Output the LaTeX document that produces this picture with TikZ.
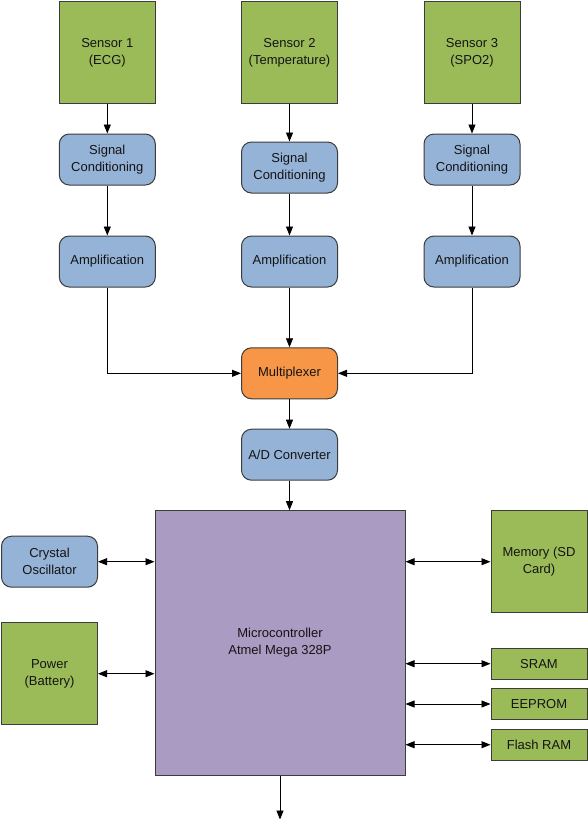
\documentclass[tikz,border=0pt]{standalone}
\usepackage{fontspec}
\setmainfont{Liberation Sans}
\usetikzlibrary{arrows.meta}
\definecolor{gfill}{RGB}{155,187,89}
\definecolor{bfill}{RGB}{149,179,215}
\definecolor{ofill}{RGB}{247,150,70}
\definecolor{pfill}{RGB}{169,155,193}
\definecolor{edge}{RGB}{60,60,60}
\definecolor{txt}{RGB}{20,20,20}
\tikzset{
  base/.style={draw=edge, line width=1pt, text=txt, align=center, inner sep=2pt,
    font=\fontsize{13}{17}\selectfont, minimum width=96pt},
  greenbox/.style={base, fill=gfill, minimum height=102pt},
  bluebox/.style={base, fill=bfill, rounded corners=10pt, minimum height=51pt},
  orangebox/.style={base, fill=ofill, rounded corners=10pt, minimum height=51pt},
  smallbox/.style={base, fill=gfill, minimum height=30.7pt},
  arr/.style={draw=black, line width=0.8pt, -{Triangle[length=9pt,width=7pt]}},
  darr/.style={draw=black, line width=0.8pt, {Triangle[length=9pt,width=7pt]}-{Triangle[length=9pt,width=7pt]}}
}
\begin{document}
\begin{tikzpicture}[x=1pt,y=-1pt]
\useasboundingbox (0,0) rectangle (588,820);
% sensors
\node[greenbox] (s1) at (107.3,52.7) {Sensor 1\\(ECG)};
\node[greenbox] (s2) at (289.5,52.7) {Sensor 2\\(Temperature)};
\node[greenbox] (s3) at (472,52.7) {Sensor 3\\(SPO2)};
% signal conditioning
\node[bluebox] (c1) at (107.3,159.5) {Signal\\Conditioning};
\node[bluebox] (c2) at (289.5,167.5) {Signal\\Conditioning};
\node[bluebox] (c3) at (472,159.5) {Signal\\Conditioning};
% amplification
\node[bluebox] (a1) at (107.3,261.5) {Amplification};
\node[bluebox] (a2) at (289.5,261.5) {Amplification};
\node[bluebox] (a3) at (472,261.5) {Amplification};
% mux and adc
\node[orangebox] (mux) at (289.5,373.3) {Multiplexer};
\node[bluebox] (ad) at (289.5,454.7) {A/D Converter};
% microcontroller
\node[base, fill=pfill, minimum width=250pt, minimum height=264.6pt] (mcu) at (280,643) {};
\node[text=txt, align=center, font=\fontsize{13}{17}\selectfont] (mcutxt) at (280,642.5) {Microcontroller\\Atmel Mega 328P};
% peripherals
\node[bluebox] (xo) at (49.5,561.7) {Crystal\\Oscillator};
\node[greenbox] (pw) at (49.5,673.7) {Power\\(Battery)};
\node[greenbox] (mem) at (539,561.7) {Memory (SD\\Card)};
\node[smallbox] (sram) at (539,663.7) {SRAM};
\node[smallbox] (eep) at (539,704) {EEPROM};
\node[smallbox] (flash) at (539,744.7) {Flash RAM};
\coordinate (out) at (280,819.5);
% connectors
\draw[arr] (s1) -- (c1);
\draw[arr] (s2) -- (c2);
\draw[arr] (s3) -- (c3);
\draw[arr] (c1) -- (a1);
\draw[arr] (c2) -- (a2);
\draw[arr] (c3) -- (a3);
\draw[arr] (a1.south) |- (mux.west);
\draw[arr] (a2) -- (mux);
\draw[arr] (a3.south) |- (mux.east);
\draw[arr] (mux) -- (ad);
\draw[arr] (ad.south) -- (ad.south |- mcu.north);
\draw[darr] (xo.east) -- (xo.east -| mcu.west);
\draw[darr] (pw.east) -- (pw.east -| mcu.west);
\draw[darr] (mcu.east |- mem.west) -- (mem.west);
\draw[darr] (mcu.east |- sram.west) -- (sram.west);
\draw[darr] (mcu.east |- eep.west) -- (eep.west);
\draw[darr] (mcu.east |- flash.west) -- (flash.west);
\draw[arr] (mcu.south) -- (out);
\end{tikzpicture}
\end{document}
